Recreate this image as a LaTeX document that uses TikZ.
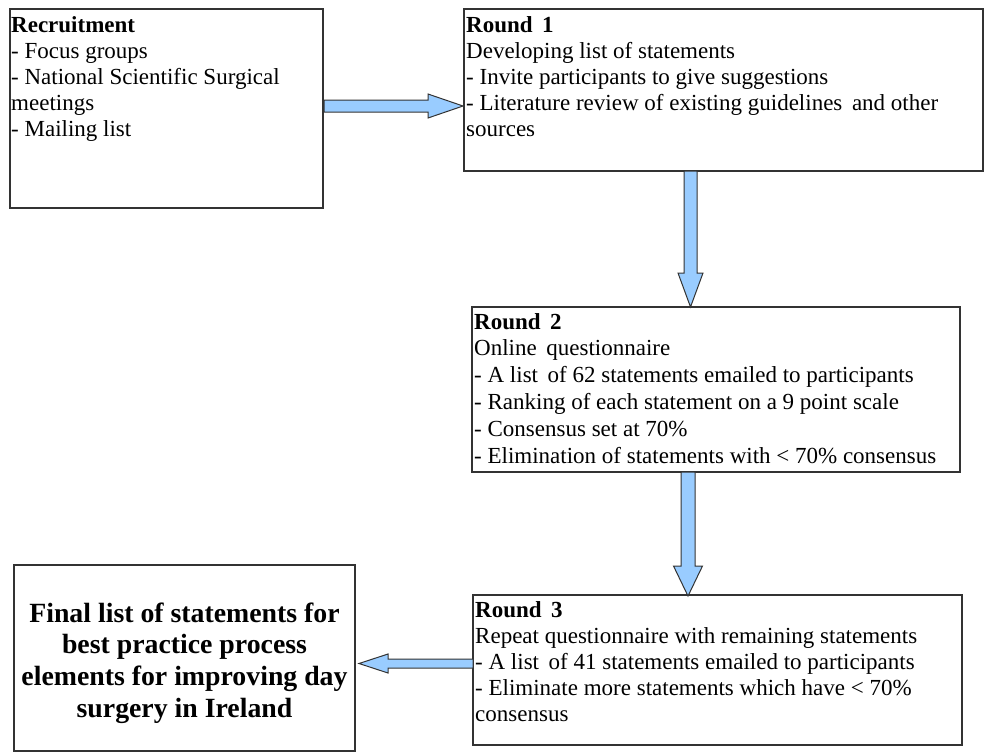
\documentclass[tikz,border=0pt]{standalone}
\usepackage{fontspec}
\setmainfont{Liberation Serif}
\newfontfamily\refserif{Liberation Serif}
\usetikzlibrary{calc}
\definecolor{arrowfill}{HTML}{99CCFF}
\definecolor{edgegray}{HTML}{333333}
\begin{document}
\begin{tikzpicture}[x=1pt,y=-1pt,
  boxstyle/.style={draw=edgegray,line width=1.3pt,fill=white},
  blockarrow/.style={draw=edgegray,line width=1pt,fill=arrowfill,line join=miter},
  txt/.style={anchor=base west,inner sep=0pt,font=\refserif\fontsize{23}{26}\selectfont}
]
\useasboundingbox (0,0) rectangle (984,753);
% boxes
\path[boxstyle] (10,9) rectangle (323,208);
\path[boxstyle] (464,9) rectangle (983,171);
\path[boxstyle] (472,307) rectangle (960,472);
\path[boxstyle] (473,595) rectangle (962,745);
\path[boxstyle] (14,565) rectangle (355,751);
% named anchors for connectors
\coordinate (rec) at (323,106);
\coordinate (r1w) at (463,106);
\coordinate (r1s) at (690.5,171);
\coordinate (r2n) at (690.5,307);
\coordinate (r2s) at (688,472);
\coordinate (r3n) at (688,596);
\coordinate (r3w) at (473,663.5);
\coordinate (finE) at (359,663.5);
% arrow 1: rec -> r1 (horizontal)
\draw[blockarrow] ($(rec)+(1,-6)$) -- ($(r1w)+(-35,-6)$) -- ($(r1w)+(-35,-12)$) -- (r1w)
  -- ($(r1w)+(-35,12)$) -- ($(r1w)+(-35,6)$) -- ($(rec)+(1,6)$) -- cycle;
% arrow 2: r1 -> r2 (down)
\draw[blockarrow] ($(r1s)+(-6.5,0)$) -- ($(r2n)+(-6.5,-34)$) -- ($(r2n)+(-12.5,-34)$) -- (r2n)
  -- ($(r2n)+(12.5,-34)$) -- ($(r2n)+(6.5,-34)$) -- ($(r1s)+(6.5,0)$) -- cycle;
% arrow 3: r2 -> r3 (down)
\draw[blockarrow] ($(r2s)+(-7,0)$) -- ($(r3n)+(-7,-30)$) -- ($(r3n)+(-14.5,-30)$) -- (r3n)
  -- ($(r3n)+(14.5,-30)$) -- ($(r3n)+(7,-30)$) -- ($(r2s)+(7,0)$) -- cycle;
% arrow 4: r3 -> final (left)
\draw[blockarrow] ($(r3w)+(0,-4.5)$) -- ($(finE)+(29,-4.5)$) -- ($(finE)+(29,-9.5)$) -- (finE)
  -- ($(finE)+(29,9.5)$) -- ($(finE)+(29,4.5)$) -- ($(r3w)+(0,4.5)$) -- cycle;
% texts
\node[txt] (trec) at (11,32) {\parbox[t]{310pt}{\raggedright
  \textbf{Recruitment}\\
  - Focus groups\\
  - National Scientific Surgical\\
  meetings\\
  - Mailing list}};
\node[txt] (tr1) at (466,32) {\parbox[t]{515pt}{\raggedright
  \textbf{Round\, 1}\\
  Developing list of statements\\
  - Invite participants to give suggestions\\
  - Literature review of existing guidelines\, and other\\
  sources}};
\node[txt] (tr2) at (474,329) {\parbox[t]{485pt}{\raggedright\fontsize{23}{26.8}\selectfont
  \textbf{Round\, 2}\\
  Online\, questionnaire\\
  - A list\, of 62 statements emailed to participants\\
  - Ranking of each statement on a 9 point scale\\
  - Consensus set at 70\%\\
  - Elimination of statements with < 70\% consensus}};
\node[txt] (tr3) at (475,617) {\parbox[t]{485pt}{\raggedright\fontsize{23}{26.2}\selectfont
  \textbf{Round\, 3}\\
  Repeat questionnaire with remaining statements\\
  - A list\, of 41 statements emailed to participants\\
  - Eliminate more statements which have < 70\%\\
  consensus}};
\node[anchor=base,inner sep=0pt] (tfin) at (184.5,622) {\parbox[t]{340pt}{\centering\refserif\fontsize{27.8}{31.7}\selectfont\bfseries
  Final list of statements for\\
  best practice process\\
  elements for improving day\\
  surgery in Ireland}};
\end{tikzpicture}
\end{document}
